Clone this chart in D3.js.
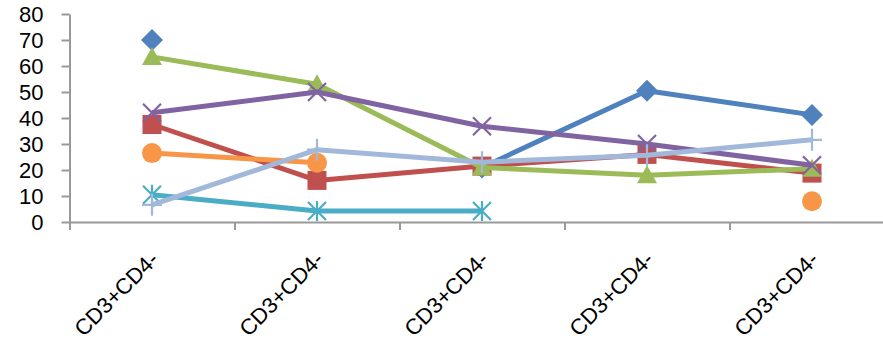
<!DOCTYPE html>
<html>
<head>
<meta charset="utf-8">
<script src="https://cdn.jsdelivr.net/npm/d3@7"></script>
<style>
  body { margin: 0; background: #fff; }
  svg { display: block; }
  text { font-family: "Liberation Sans", Arial, sans-serif; fill: #000; }
</style>
</head>
<body>
<div id="chart"></div>
<script>
// Categories and series
const categories = ["CD3+CD4-", "CD3+CD4-", "CD3+CD4-", "CD3+CD4-", "CD3+CD4-"];
const yTicks = [0, 10, 20, 30, 40, 50, 60, 70, 80];

const seriesBlue = [70, null, 21, 50.5, 41.2];
const seriesRed = [37.5, 16, 21.5, 26, 18.8];
const seriesGreen = [63.5, 53, 21, 18, 20.5];
const seriesPurple = [42, 50, 36.8, 30, 21.8];
const seriesTeal = [10.5, 4.2, 4.2, null, null];
const seriesOrange = [26.5, 22.8, null, null, 8];
const seriesLightBlue = [6.6, 27.8, 23, 25.7, 31.6];

const seriesList = [
    { values: seriesBlue, color: "#4f81bd", marker: "diamond" },
    { values: seriesRed, color: "#c0504d", marker: "square" },
    { values: seriesGreen, color: "#9bbb59", marker: "triangle" },
    { values: seriesPurple, color: "#8064a2", marker: "x" },
    { values: seriesTeal, color: "#4bacc6", marker: "star" },
    { values: seriesOrange, color: "#f79646", marker: "circle" },
    { values: seriesLightBlue, color: "#a2b8da", marker: "plus" }
];

const width = 883, height = 340;
const margin = { left: 69.5, top: 14, bottom: 118 };
const plotWidth = 5 * 165;

const svg = d3.select("#chart").append("svg")
    .attr("width", width)
    .attr("height", height);

const x = d3.scaleBand()
    .domain(d3.range(categories.length))
    .range([margin.left, margin.left + plotWidth]);

const xEdge = d3.scaleLinear()
    .domain([0, categories.length])
    .range([margin.left, margin.left + plotWidth]);

const y = d3.scaleLinear()
    .domain([0, 80])
    .range([height - margin.bottom, margin.top]);

const axisColor = "#999";

// Y axis
const yAxis = svg.append("g")
    .attr("transform", `translate(${margin.left},0)`)
    .call(d3.axisLeft(y).tickValues(yTicks).tickSize(8).tickSizeOuter(0).tickPadding(18));
yAxis.select(".domain").attr("stroke", axisColor).attr("stroke-width", 2);
yAxis.selectAll(".tick line").attr("stroke", axisColor).attr("stroke-width", 2);
yAxis.selectAll(".tick text")
    .style("font-size", "22px")
    .style("font-family", "'Liberation Sans', Arial, sans-serif")
    .attr("fill", "#000");

// X axis, ticks between categories
const xAxis = svg.append("g")
    .attr("transform", `translate(0,${y(0)})`)
    .call(d3.axisBottom(xEdge).tickValues(d3.range(categories.length + 1)).tickFormat("").tickSize(8).tickSizeOuter(0));
xAxis.select(".domain").attr("stroke", axisColor).attr("stroke-width", 2);
xAxis.selectAll(".tick line").attr("stroke", axisColor).attr("stroke-width", 2);

// Category labels, rotated
svg.append("g").selectAll("text")
    .data(categories)
    .join("text")
    .attr("transform", (d, i) => `translate(${x(i) + x.bandwidth() / 2 - 3},${y(0) + 28}) rotate(-45)`)
    .attr("text-anchor", "end")
    .attr("dy", "0.7em")
    .style("font-size", "22px")
    .text(d => d);

// Marker shapes
function drawMarker(g, type, color) {
    const s = 10;
    if (type === "diamond") {
        g.append("path").attr("d", `M0,-11L11,0L0,11L-11,0Z`).attr("fill", color);
    } else if (type === "square") {
        g.append("rect").attr("x", -9.5).attr("y", -9.5).attr("width", 19).attr("height", 19).attr("fill", color);
    } else if (type === "triangle") {
        g.append("path").attr("d", `M0,${-s}L${s},${s * 0.8}L${-s},${s * 0.8}Z`).attr("fill", color);
    } else if (type === "circle") {
        g.append("circle").attr("r", s).attr("fill", color);
    } else if (type === "x") {
        g.append("path").attr("d", `M-9,-9L9,9M-9,9L9,-9`).attr("stroke", color).attr("stroke-width", 2.2);
    } else if (type === "star") {
        g.append("path").attr("d", `M-9,-9L9,9M-9,9L9,-9M0,-10L0,10`).attr("stroke", color).attr("stroke-width", 2.2);
    } else if (type === "plus") {
        g.append("path").attr("d", `M-10,0L10,0M0,-11L0,11`).attr("stroke", color).attr("stroke-width", 2.2);
    }
}

const line = d3.line()
    .defined(d => d !== null)
    .x((d, i) => x(i) + x.bandwidth() / 2)
    .y(d => y(d));

seriesList.forEach(s => {
    const g = svg.append("g");
    g.append("path")
        .datum(s.values)
        .attr("d", line)
        .attr("fill", "none")
        .attr("stroke", s.color)
        .attr("stroke-width", 5)
        .attr("stroke-linejoin", "round");
    s.values.forEach((v, i) => {
        if (v === null) return;
        const m = g.append("g")
            .attr("transform", `translate(${x(i) + x.bandwidth() / 2},${y(v)})`);
        drawMarker(m, s.marker, s.color);
    });
});
</script>
</body>
</html>
